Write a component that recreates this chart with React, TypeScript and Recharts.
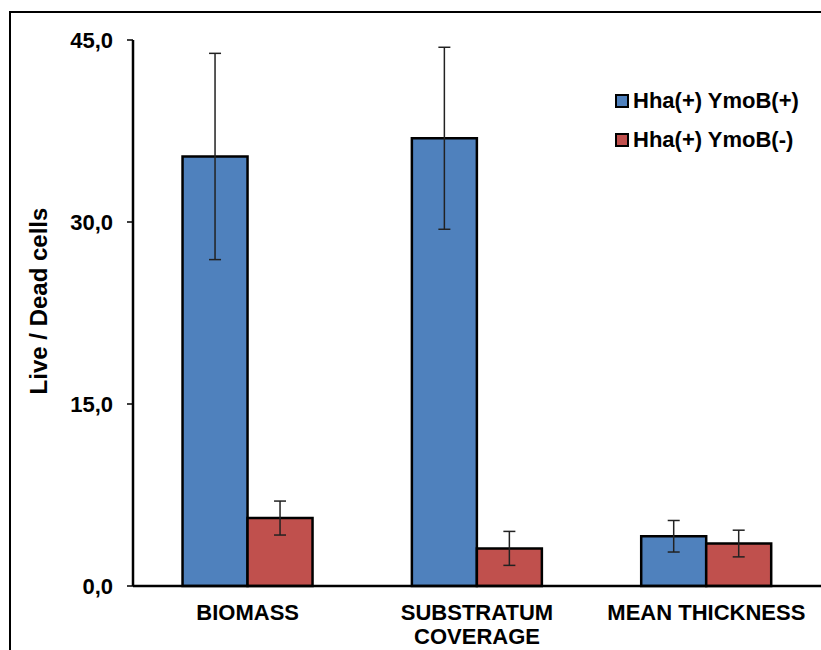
import { Bar, BarChart, ErrorBar, XAxis, YAxis } from "recharts";

const CATEGORIES = ["BIOMASS", "SUBSTRATUM\nCOVERAGE", "MEAN THICKNESS"];
const YMOB_POS = [35.4, 36.9, 4.1];
const YMOB_POS_ERR = [8.5, 7.5, 1.3];
const YMOB_NEG = [5.6, 3.1, 3.5];
const YMOB_NEG_ERR = [1.4, 1.4, 1.1];
const Y_TICKS = [0, 15, 30, 45];

const SERIES = [
  { key: "pos", err: "posErr", name: "Hha(+) YmoB(+)", color: "#4F81BD" },
  { key: "neg", err: "negErr", name: "Hha(+) YmoB(-)", color: "#C0504D" },
];

const data = CATEGORIES.map((c, i) => ({
  name: c,
  pos: YMOB_POS[i],
  posErr: YMOB_POS_ERR[i],
  neg: YMOB_NEG[i],
  negErr: YMOB_NEG_ERR[i],
}));

const FONT = "'Liberation Sans', Arial, sans-serif";

function CategoryTick(props: any) {
  const { x, y, payload } = props;
  const lines = String(payload.value).split("\n");
  return (
    <g>
      {lines.map((line, i) => (
        <text
          key={i}
          x={x}
          y={y + 26 + i * 24}
          textAnchor="middle"
          fontFamily={FONT}
          fontWeight="bold"
          fontSize={22}
          fill="#000"
        >
          {line}
        </text>
      ))}
    </g>
  );
}

function LegendBox() {
  return (
    <div
      style={{
        position: "absolute",
        left: 615,
        top: 81,
        fontFamily: FONT,
        fontWeight: "bold",
        fontSize: 22,
        whiteSpace: "nowrap",
      }}
    >
      {SERIES.map((s) => (
        <div
          key={s.key}
          style={{ display: "flex", alignItems: "center", height: 39 }}
        >
          <span
            style={{
              display: "inline-block",
              width: 10,
              height: 10,
              background: s.color,
              border: "2px solid #000",
              marginRight: 4,
            }}
          />
          <span>{s.name}</span>
        </div>
      ))}
    </div>
  );
}

export default function App() {
  return (
    <div
      style={{
        position: "absolute",
        left: 0,
        top: 0,
        width: 821,
        height: 650,
        overflow: "hidden",
        background: "#fff",
      }}
    >
      <div
        style={{
          position: "absolute",
          left: 9,
          top: 11,
          width: 900,
          height: 700,
          border: "2.5px solid #000",
        }}
      />
      <div style={{ position: "absolute", left: 0, top: 0 }}>
        <BarChart
          width={821}
          height={650}
          data={data}
          margin={{ top: 40, right: 0, left: 0, bottom: 0 }}
          barCategoryGap="21.6%"
          barGap={0}
        >
          <XAxis
            dataKey="name"
            height={64}
            axisLine={{ stroke: "#000", strokeWidth: 2.5 }}
            tickLine={false}
            interval={0}
            tick={<CategoryTick />}
          />
          <YAxis
            width={133}
            domain={[0, 45]}
            ticks={Y_TICKS}
            tickFormatter={(v: number) => v.toFixed(1).replace(".", ",")}
            axisLine={{ stroke: "#000", strokeWidth: 2.5 }}
            tickLine={{ stroke: "#000", strokeWidth: 1.5 }}
            tickSize={6}
            tickMargin={14}
            tick={{
              fill: "#000",
              fontFamily: FONT,
              fontWeight: "bold",
              fontSize: 22,
            }}
            label={{
              content: () => (
                <text
                  x={38}
                  y={301}
                  transform="rotate(-90 38 301)"
                  textAnchor="middle"
                  dominantBaseline="central"
                  fontFamily={FONT}
                  fontWeight="bold"
                  fontSize={24}
                  fill="#000"
                >
                  Live / Dead cells
                </text>
              ),
            }}
          />
          {SERIES.map((s) => (
            <Bar
              key={s.key}
              dataKey={s.key}
              name={s.name}
              fill={s.color}
              stroke="#000"
              strokeWidth={2.5}
              isAnimationActive={false}
            >
              <ErrorBar
                dataKey={s.err}
                width={6}
                stroke="#222"
                strokeWidth={1.5}
                direction="y"
              />
            </Bar>
          ))}
        </BarChart>
      </div>
      <LegendBox />
    </div>
  );
}
